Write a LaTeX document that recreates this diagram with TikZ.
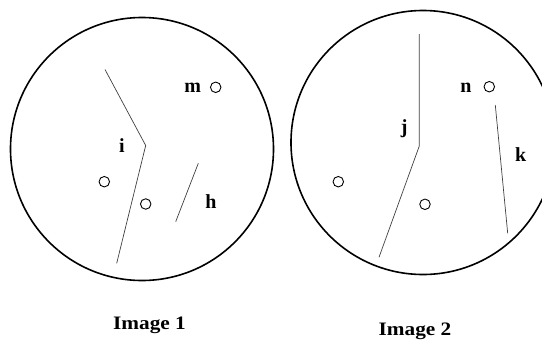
\documentclass[tikz,border=0pt]{standalone}
\usepackage{fontspec}
\setmainfont{Liberation Serif}
\begin{document}
\begin{tikzpicture}[x=1pt,y=-1pt,
  bigcirc/.style={draw=black,line width=1.6pt},
  thinline/.style={draw=black!75,line width=0.7pt},
  dot/.style={circle,draw=black,line width=0.9pt,minimum size=10.5pt,inner sep=0pt},
  lbl/.style={font=\fontsize{20}{20}\selectfont\bfseries,inner sep=0pt},
  captext/.style={font=\fontsize{19}{19}\selectfont\bfseries,inner sep=0pt,xscale=1.12}]
\useasboundingbox (0,0) rectangle (542,341);
\clip (0,0) rectangle (542,341);
% Image 1
\node[bigcirc,circle,minimum size=263pt,inner sep=0pt] (c1) at (142,149) {};
\coordinate (i1) at (105,69.5);
\coordinate (i2) at (145.7,145.5);
\coordinate (i3) at (116.7,263.3);
\draw[thinline] (i1) -- (i2) -- (i3);
\node[lbl] (li) at (122,146) {i};
\node[dot] (d1) at (104.3,181.7) {};
\node[dot] (d2) at (145.7,204) {};
\node[lbl] (lm) at (192.7,87.3) {m};
\node[dot] (dm) at (215.7,87.3) {};
\coordinate (h1) at (198.3,163.3);
\coordinate (h2) at (175.7,221.7);
\draw[thinline] (h1) -- (h2);
\node[lbl] (lh) at (211,201.5) {h};
% Image 2
\node[bigcirc,circle,minimum size=264pt,inner sep=0pt] (c2) at (423,142.5) {};
\coordinate (j1) at (419.3,34);
\coordinate (j2) at (419.3,146);
\coordinate (j3) at (379,257.3);
\draw[thinline] (j1) -- (j2) -- (j3);
\node[lbl] (lj) at (404.3,129) {j};
\node[dot] (d3) at (338.3,181.7) {};
\node[dot] (d4) at (425,204.3) {};
\node[lbl] (ln) at (466,87.3) {n};
\node[dot] (dn) at (489.3,86.7) {};
\coordinate (k1) at (495.3,105);
\coordinate (k2) at (507.7,233.3);
\draw[thinline] (k1) -- (k2);
\node[lbl] (lk) at (520.7,155) {k};
% captions
\node[captext] (cap1) at (149.5,325.5) {Image 1};
\node[captext] (cap2) at (415,331.5) {Image 2};
\end{tikzpicture}
\end{document}
